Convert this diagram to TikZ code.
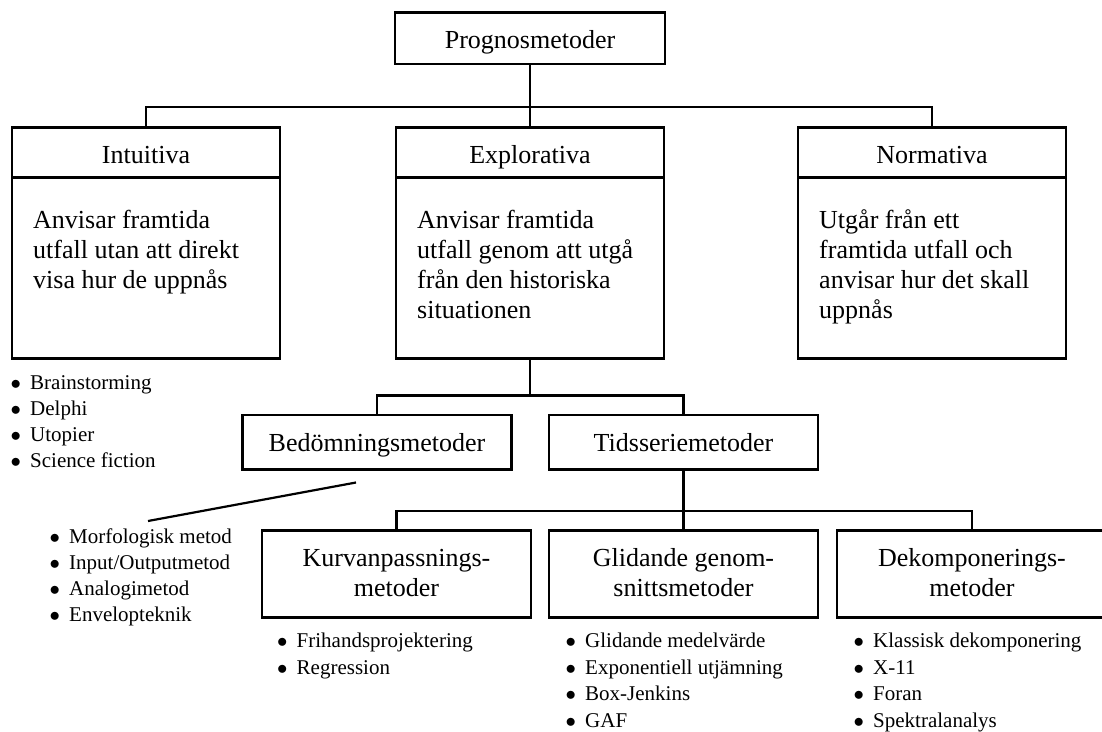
\documentclass[tikz,border=0pt]{standalone}
\usepackage{fontspec}
\setmainfont{Liberation Serif}
\newcommand\itm{\makebox[19.5pt][l]{$\bullet$}}
\begin{document}
\begin{tikzpicture}[x=1pt,y=-1pt,
  box/.style={draw,line width=2.4pt,inner sep=0pt},
  wire/.style={line width=2.2pt},
  big/.style={font=\fontsize{26}{30}\selectfont,inner sep=0pt},
  small/.style={font=\fontsize{21}{26.3}\selectfont,inner sep=0pt,anchor=base west}]
\useasboundingbox (0,0) rectangle (1102,731);

% root
\node[box,minimum width=270pt,minimum height=51.7pt] (prog) at (530,38.2) {};
\node[big,anchor=base] (prog-t) at (530,48.3) {Prognosmetoder};

% three main branches: header + description
\node[box,minimum width=268pt,minimum height=50pt] (int-h) at (146,152.3) {};
\node[box,minimum width=268pt,minimum height=181pt] (int-b) at (146,267.8) {};
\node[box,minimum width=268pt,minimum height=50pt] (expl-h) at (530,152.3) {};
\node[box,minimum width=268pt,minimum height=181pt] (expl-b) at (530,267.8) {};
\node[box,minimum width=268pt,minimum height=50pt] (norm-h) at (932,152.3) {};
\node[box,minimum width=268pt,minimum height=181pt] (norm-b) at (932,267.8) {};

\node[big,anchor=base] (int-t) at (146,163.3) {Intuitiva};
\node[big,anchor=base] (expl-t) at (530,163.3) {Explorativa};
\node[big,anchor=base] (norm-t) at (932,163.3) {Normativa};

\node[big,anchor=base west] (int-d) at (33,228.3) {\begin{tabular}[t]{@{}l@{}}Anvisar framtida\\utfall utan att direkt\\visa hur de uppnås\end{tabular}};
\node[big,anchor=base west] (expl-d) at (417,228.3) {\begin{tabular}[t]{@{}l@{}}Anvisar framtida\\utfall genom att utgå\\från den historiska\\situationen\end{tabular}};
\node[big,anchor=base west] (norm-d) at (819,228.3) {\begin{tabular}[t]{@{}l@{}}Utgår från ett\\framtida utfall och\\anvisar hur det skall\\uppnås\end{tabular}};

% explorative sub-branches
\node[box,minimum width=269pt,minimum height=54.3pt] (bed) at (377,442.2) {};
\node[box,minimum width=269pt,minimum height=54.3pt] (tid) at (683.5,442.2) {};
\node[big,anchor=base] (bed-t) at (377,451.7) {Bedömningsmetoder};
\node[big,anchor=base] (tid-t) at (683.5,451.7) {Tidsseriemetoder};

% time-series methods
\node[box,minimum width=269pt,minimum height=87pt] (kurv) at (396.5,574) {};
\node[box,minimum width=269pt,minimum height=87pt] (glid) at (683.5,574) {};
\node[box,minimum width=270pt,minimum height=87pt] (dek) at (972,574) {};
\node[big,anchor=base] (kurv-t) at (396.5,566.5) {\begin{tabular}[t]{@{}c@{}}Kurvanpassnings-\\metoder\end{tabular}};
\node[big,anchor=base] (glid-t) at (683.5,566.5) {\begin{tabular}[t]{@{}c@{}}Glidande genom-\\snittsmetoder\end{tabular}};
\node[big,anchor=base] (dek-t) at (972,566.5) {\begin{tabular}[t]{@{}c@{}}Dekomponerings-\\metoder\end{tabular}};

% bullet lists
\node[small] (int-l) at (10.5,389) {\begin{tabular}[t]{@{}l@{}}\itm Brainstorming\\\itm Delphi\\\itm Utopier\\\itm Science fiction\end{tabular}};
\node[small] (bed-l) at (49.5,543) {\begin{tabular}[t]{@{}l@{}}\itm Morfologisk metod\\\itm Input/Outputmetod\\\itm Analogimetod\\\itm Envelopteknik\end{tabular}};
\node[small,font=\fontsize{21}{26.7}\selectfont] (kurv-l) at (277,647.5) {\begin{tabular}[t]{@{}l@{}}\itm Frihandsprojektering\\\itm Regression\end{tabular}};
\node[small,font=\fontsize{21}{26.7}\selectfont] (glid-l) at (565.5,647.5) {\begin{tabular}[t]{@{}l@{}}\itm Glidande medelvärde\\\itm Exponentiell utjämning\\\itm Box-Jenkins\\\itm GAF\end{tabular}};
\node[small,font=\fontsize{21}{26.7}\selectfont] (dek-l) at (853.5,647.5) {\begin{tabular}[t]{@{}l@{}}\itm Klassisk dekomponering\\\itm X-11\\\itm Foran\\\itm Spektralanalys\end{tabular}};

% connectors
\coordinate (b1) at (530,107);
\draw[wire] (prog.south) -- (b1);
\draw[wire] (b1) -| (int-h.north);
\draw[wire] (b1) -- (expl-h.north);
\draw[wire] (b1) -| (norm-h.north);

\coordinate (b2) at (530,395.5);
\draw[wire] (expl-b.south) -- (b2);
\draw[wire] (b2) -| (bed.north);
\draw[wire] (b2) -| (tid.north);

\coordinate (b3) at (683.5,511);
\draw[wire] (tid.south) -- (b3);
\draw[wire] (b3) -| (kurv.north);
\draw[wire] (b3) -- (glid.north);
\draw[wire] (b3) -| (dek.north);

\coordinate (d1) at (356,482.5);
\coordinate (d2) at (148,521);
\draw[wire] (d1) -- (d2);
\end{tikzpicture}
\end{document}
